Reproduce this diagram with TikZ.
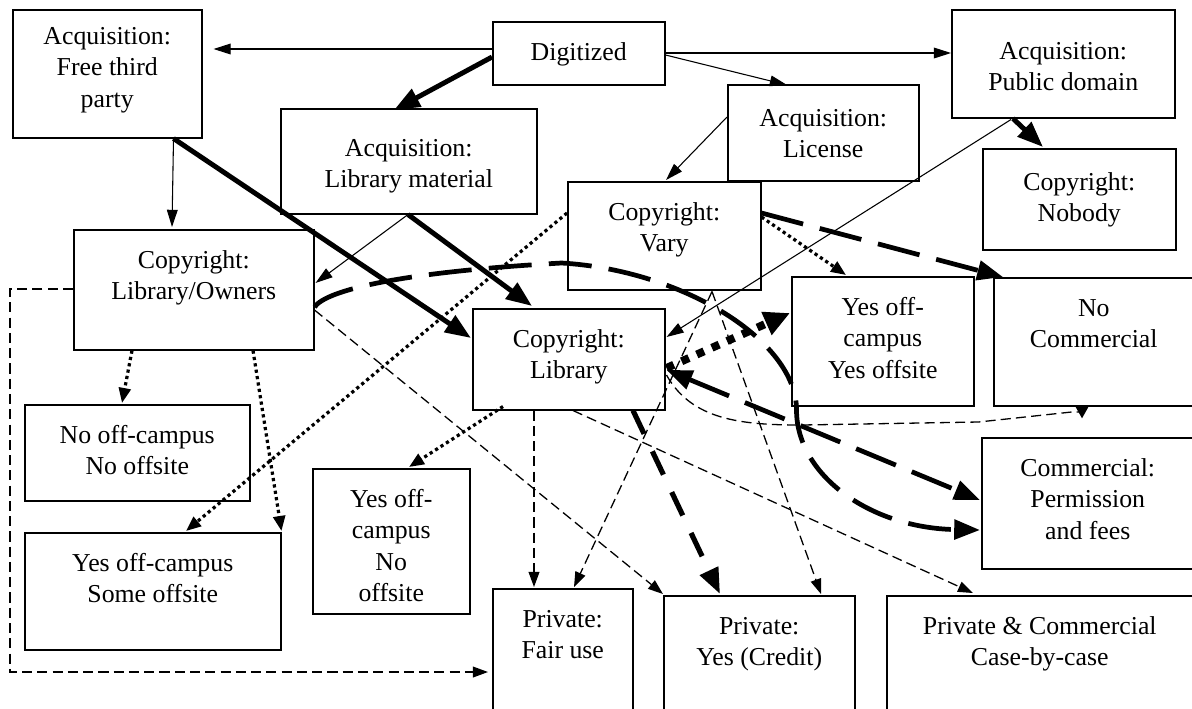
\documentclass[tikz,border=0pt]{standalone}
\usepackage{fontspec}
\setmainfont{Liberation Serif}
\usetikzlibrary{arrows.meta}
\newlength{\pxl}
\setlength{\pxl}{0.465pt}
% box text: [strut] {width px} {height px} {lines}
\newcommand{\bx}[4][18pt]{\parbox[c][#3\pxl][t]{#2\pxl}{\centering\rule{0pt}{#1}#4}}
\begin{document}
\begin{tikzpicture}[x=0.465pt, y=-0.465pt,
  box/.style={draw, line width=0.7pt, inner sep=0pt, anchor=north west, font=\fontsize{12}{14.65}\selectfont},
  thinline/.style={line width=0.5pt, -{Triangle[length=8pt,width=5pt]}},
  thickline/.style={line width=2.3pt, -{Triangle[length=12pt,width=9pt]}},
  dashline/.style={line width=0.6pt, dash pattern=on 4.7pt off 2.4pt, -{Triangle[length=7pt,width=5pt]}},
  longdash/.style={line width=2.2pt, dash pattern=on 20pt off 8pt, -{Triangle[length=12pt,width=9pt]}},
  shortdash/.style={line width=2.4pt, dash pattern=on 12pt off 9pt, -{Triangle[length=12pt,width=9pt]}},
  dotline/.style={line width=1.5pt, dash pattern=on 1.5pt off 1.5pt, -{Triangle[length=7pt,width=5.5pt]}},
  bigdot/.style={line width=3.7pt, dash pattern=on 3.7pt off 4pt, -{Triangle[length=12pt,width=11pt]}}]
\fill[white] (0,0) rectangle (1192,708);
\useasboundingbox (0,0) rectangle (1192,708);
\clip (0,0) rectangle (1192,708);

\node[box] (freeTP) at (12,9) {\bx[16pt]{189}{128}{Acquisition:\\Free third\\party}};
\node[box] (digit) at (492,21) {\bx{172}{63}{Digitized}};
\node[box] (pubDom) at (951,9) {\bx[23pt]{223}{108}{Acquisition:\\Public domain}};
\node[box] (libMat) at (280,108) {\bx[22pt]{256}{105}{Acquisition:\\Library material}};
\node[box] (license) at (727,84) {\bx[19.3pt]{191}{96}{Acquisition:\\License}};
\node[box] (nobody) at (982,148) {\bx[19.3pt]{193}{101}{Copyright:\\Nobody}};
\node[box] (libOwn) at (73,229) {\bx{240}{120}{Copyright:\\Library/Owners}};
\node[box] (vary) at (567,181) {\bx{193}{108}{Copyright:\\Vary}};
\node[box] (lib) at (472,308) {\bx{192}{101}{Copyright:\\Library}};
\node[box] (yesYes) at (791,276) {\bx{182}{129}{Yes off-\\campus\\Yes offsite}};
\node[box] (noComm) at (993,277) {\bx{200}{128}{No\\Commercial}};
\node[box] (noNo) at (24,404) {\bx{225}{96}{No off-campus\\No offsite}};
\node[box] (yesSome) at (24,532) {\bx{256}{117}{Yes off-campus\\Some offsite}};
\node[box] (yesNo) at (312,468) {\bx{157}{145}{Yes off-\\campus\\No\\offsite}};
\node[box] (comm) at (981,437) {\bx{212}{131}{Commercial:\\Permission\\and fees}};
\node[box] (fair) at (492,588) {\bx{140}{150}{Private:\\Fair use}};
\node[box] (credit) at (663,595) {\bx{191}{150}{Private:\\Yes (Credit)}};
\node[box] (privComm) at (886,595) {\bx{306}{150}{Private \& Commercial\\Case-by-case}};

% acquisition
\path[draw,thinline] ([shift={(0,28)}]digit.north west) -- ([shift={(11,40)}]freeTP.north east);
\path[draw,thinline] ([shift={(0,32)}]digit.north east) -- ([shift={(0,44)}]pubDom.north west);
\path[draw,thinline] ([shift={(0,34)}]digit.north east) -- ([shift={(60,1)}]license.north west);
\path[draw,thickline] ([shift={(0,36)}]digit.north west) -- ([shift={(114,2)}]libMat.north west);

% copyright
\path[draw,thinline] ([shift={(-29,0)}]freeTP.south east) -- ([shift={(99,-2)}]libOwn.north west);
\path[draw,thickline] ([shift={(-29,0)}]freeTP.south east) -- ([shift={(-1,30)}]lib.north west);
\path[draw,thinline] ([shift={(128,0)}]libMat.south west) -- ([shift={(1,54)}]libOwn.north east);
\path[draw,thickline] ([shift={(128,0)}]libMat.south west) -- ([shift={(60,-2)}]lib.north west);
\path[draw,thinline] ([shift={(0,33)}]license.north west) -- ([shift={(99,-1)}]vary.north west);
\path[draw,thickline] ([shift={(62,0)}]pubDom.south west) -- ([shift={(61,-1)}]nobody.north west);
\path[draw,thinline] ([shift={(60,1)}]pubDom.south west) -- ([shift={(1,29)}]lib.north east);

% access
\path[draw,dotline] ([shift={(59,0)}]libOwn.south west) -- ([shift={(98,-1)}]noNo.north west);
\path[draw,dotline] ([shift={(180,0)}]libOwn.south west) -- ([shift={(0,-1)}]yesSome.north east);
\path[draw,dotline] ([shift={(0,32)}]vary.north west) -- ([shift={(162,-1)}]yesSome.north west);
\path[draw,dotline] ([shift={(31,-4)}]lib.south west) -- ([shift={(97,-1)}]yesNo.north west);
\path[draw,dotline] ([shift={(0,36)}]vary.north east) -- ([shift={(55,-1)}]yesYes.north west);
\path[draw,bigdot] ([shift={(1,60)}]lib.north east) -- ([shift={(-1,37)}]yesYes.north west);

% private use
\path[draw,dashline] ([shift={(0,60)}]libOwn.north west) -- ++(-63,0) |- ([shift={(-4,84)}]fair.north west);
\path[draw,dashline] ([shift={(0,81)}]libOwn.north east) -- ([shift={(0,-1)}]credit.north west);
\path[draw,dashline] ([shift={(62,0)}]lib.south west) -- ([shift={(42,-1)}]fair.north west);
\path[draw,dashline] ([shift={(101,0)}]lib.south west) -- ([shift={(87,-2)}]privComm.north west);
\path[draw,dashline] ([shift={(145,1)}]vary.south west) -- ([shift={(82,-1)}]fair.north west);
\path[draw,dashline] ([shift={(145,1)}]vary.south west) -- ([shift={(158,-1)}]credit.north west);
\path[draw,shortdash] ([shift={(161,0)}]lib.south west) -- ([shift={(57,-1)}]credit.north west);
\path[draw,dashline,-{Triangle[reversed,length=5.5pt,width=6pt]}] ([shift={(1,67)}]lib.north east)
  .. controls +(25,45) and +(-60,0) .. ++(135,50) -- ++(177,-3) -- ++(93,-10)
  -| ([shift={(89,0)}]noComm.south west);

% commercial
\path[draw,longdash] ([shift={(0,32)}]vary.north east) -- ([shift={(10,0)}]noComm.north west);
\path[draw,longdash,{Triangle[length=12pt,width=9pt]}-{Triangle[length=12pt,width=9pt]}] ([shift={(1,62)}]lib.north east) -- ([shift={(-1,63)}]comm.north west);
\path[draw,longdash] ([shift={(0,78)}]libOwn.north east)
  .. controls +(12,-17) and +(-160,9) .. ++(247,-44)
  .. controls +(120,7) and +(0,-70) .. ++(235,147)
  .. controls +(0,65) and +(-110,-2) .. ([shift={(-1,93)}]comm.north west);
\end{tikzpicture}
\end{document}
